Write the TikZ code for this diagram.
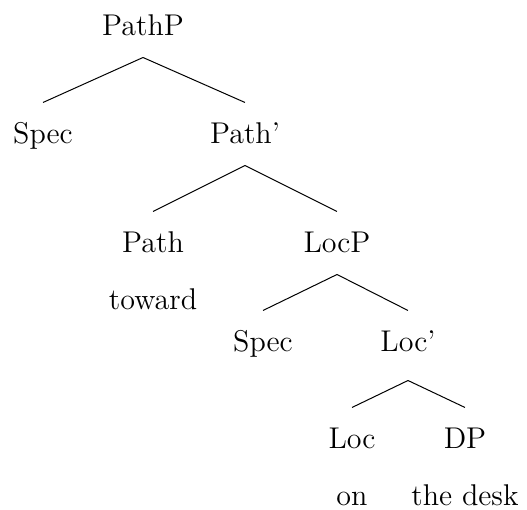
\documentclass[12pt,tikz,border=0pt]{standalone}
\usepackage{tikz}

\begin{document}
\begin{tikzpicture}[x=0.4pt, y=-0.4pt,
        cat/.style={anchor=base, inner sep=0pt, text height=16.4pt, text depth=8.4pt}]
    \useasboundingbox (0,0) rectangle (527,510);

    \node[cat] (PathP) at (143,36) {PathP};
    \node[cat] (SpecA) at (43,144) {Spec};
    \node[cat] (PathBar) at (245,144) {Path'};
    \node[cat] (Path) at (153,253) {Path};
    \node[cat] (LocP) at (337,253) {LocP};
    \node[cat] (toward) at (153,310) {toward};
    \node[cat] (SpecB) at (263,352) {Spec};
    \node[cat, text depth=11.2pt] (LocBar) at (408,352) {Loc'};
    \node[cat] (Loc) at (352,449) {Loc};
    \node[cat] (DP) at (465,449) {DP};
    \node[cat] (on) at (352,506) {on};
    \node[cat] (desk) at (465,506) {the desk};

    \draw (PathP.south) -- (SpecA.north);
    \draw (PathP.south) -- (PathBar.north);
    \draw (PathBar.south) -- (Path.north);
    \draw (PathBar.south) -- (LocP.north);
    \draw (LocP.south) -- (SpecB.north);
    \draw (LocP.south) -- (LocBar.north);
    \draw (LocBar.south) -- (Loc.north);
    \draw (LocBar.south) -- (DP.north);
\end{tikzpicture}
\end{document}
